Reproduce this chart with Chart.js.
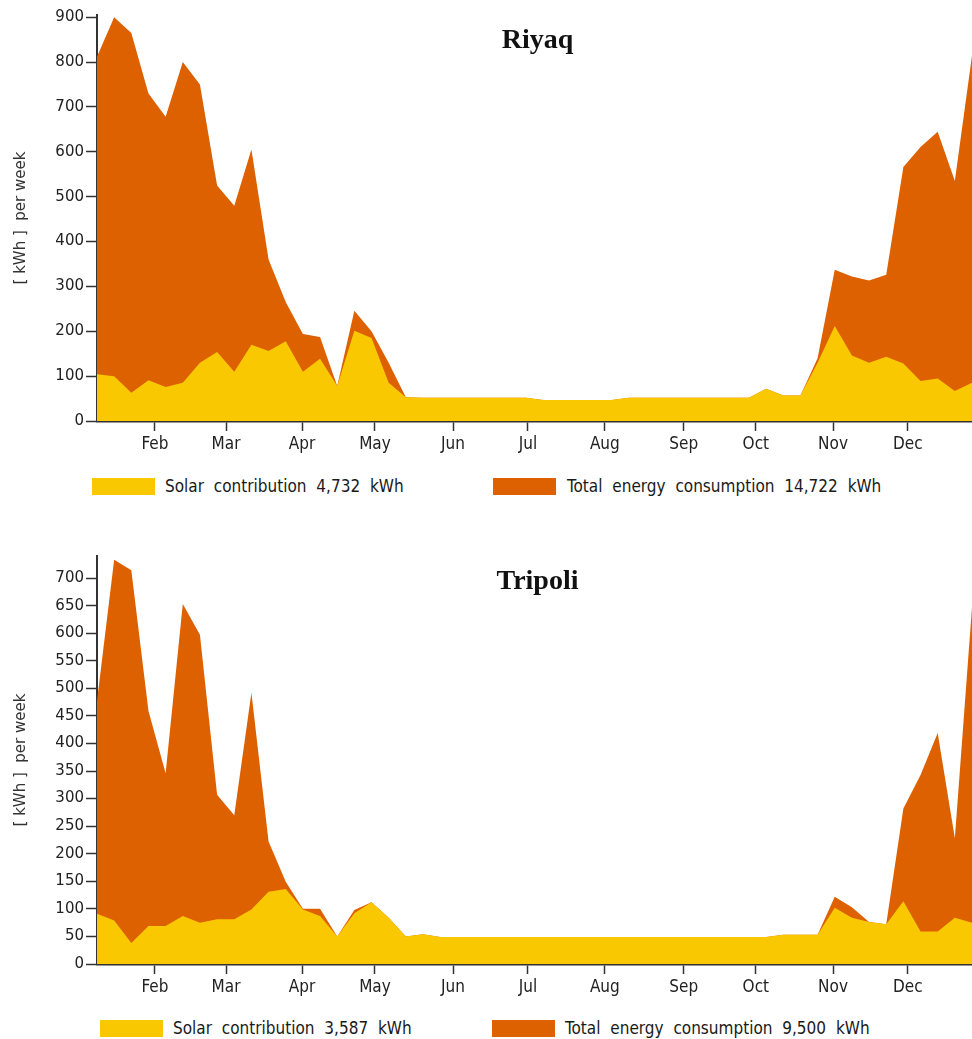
<!DOCTYPE html>
<html>
<head>
<meta charset="utf-8">
<title>Solar contribution - Riyaq / Tripoli</title>
<script src="https://cdn.jsdelivr.net/npm/chart.js"></script>
<style>
  body { margin: 0; background: #fff; }
  canvas { position: absolute; left: 0; }
  .legend { position: absolute; left: 0; width: 972px; height: 20px;
    font: 17px 'DejaVu Sans Condensed', 'Liberation Sans Narrow', 'DejaVu Sans', sans-serif;
    color: #1a1a1a; word-spacing: 5px; }
  .legend .box { position: absolute; top: 0; width: 63px; height: 17px; }
  .legend .txt { position: absolute; top: -2px; white-space: nowrap; }
</style>
</head>
<body>

<canvas id="riyaq" width="972" height="460" style="top:0"></canvas>
<div class="legend" style="top:478px">
  <span class="box" style="left:92px;background:#FAC800"></span>
  <span class="txt" style="left:165px">Solar contribution 4,732 kWh</span>
  <span class="box" style="left:493px;background:#DE6100"></span>
  <span class="txt" style="left:567px">Total energy consumption 14,722 kWh</span>
</div>

<canvas id="tripoli" width="972" height="463" style="top:540px"></canvas>
<div class="legend" style="top:1020px">
  <span class="box" style="left:100px;background:#FAC800"></span>
  <span class="txt" style="left:173px">Solar contribution 3,587 kWh</span>
  <span class="box" style="left:492px;background:#DE6100"></span>
  <span class="txt" style="left:565px">Total energy consumption 9,500 kWh</span>
</div>

<script>
// weekly values, weeks 1..52
const weekNumbers = [1,2,3,4,5,6,7,8,9,10,11,12,13,14,15,16,17,18,19,20,21,22,23,24,25,26,
  27,28,29,30,31,32,33,34,35,36,37,38,39,40,41,42,43,44,45,46,47,48,49,50,51,52];

const monthLabels = ['Feb','Mar','Apr','May','Jun','Jul','Aug','Sep','Oct','Nov','Dec'];
// where the month ticks sit, in week units
const monthTickWeeks = [4.38, 8.52, 12.95, 17.2, 21.75, 26.12, 30.6, 35.2, 39.4, 43.9, 48.26];

const riyaqSolar = [104, 100, 63, 91, 76, 85, 130, 154, 110, 170, 156, 178, 110, 139, 78, 201, 185, 85, 53,
  52, 52, 52, 52, 52, 52, 52, 47, 47, 47, 47, 47, 52, 52, 52, 52, 52, 52, 52, 52,
  72, 57, 57, 130, 212, 146, 130, 143, 128, 89, 95, 67, 85];
const riyaqTotal = [812, 900, 865, 730, 678, 800, 750, 525, 480, 605, 360, 265, 194, 187, 78, 246, 200, 130, 53,
  52, 52, 52, 52, 52, 52, 52, 47, 47, 47, 47, 47, 52, 52, 52, 52, 52, 52, 52, 52,
  72, 57, 57, 140, 337, 322, 313, 326, 566, 611, 645, 535, 815];
const riyaqYTicks = [0, 100, 200, 300, 400, 500, 600, 700, 800, 900];

const tripoliSolar = [91, 79, 38, 69, 69, 87, 75, 81, 81, 99, 131, 136, 99, 87, 50, 92, 112, 84, 50, 54,
  49, 49, 49, 49, 49, 49, 49, 49, 49, 49, 49, 49, 49, 49, 49, 49, 49, 49, 49, 49,
  53, 53, 53, 102, 84, 76, 72, 114, 59, 59, 84, 75];
const tripoliTotal = [477, 733, 714, 459, 346, 653, 597, 307, 270, 492, 222, 149, 100, 100, 50, 98, 112, 84, 50, 54,
  49, 49, 49, 49, 49, 49, 49, 49, 49, 49, 49, 49, 49, 49, 49, 49, 49, 49, 49, 49,
  53, 53, 53, 122, 103, 76, 72, 282, 343, 419, 228, 647];
const tripoliYTicks = [0, 50, 100, 150, 200, 250, 300, 350, 400, 450, 500, 550, 600, 650, 700];

const YELLOW = '#FAC800';
const ORANGE = '#DE6100';
const condensed = "'DejaVu Sans Condensed', 'Liberation Sans Narrow', 'DejaVu Sans', sans-serif";

// town name written inside the plot area
const innerTitle = {
  id: 'innerTitle',
  afterDraw(chart, args, opts) {
    const { ctx, chartArea } = chart;
    ctx.save();
    ctx.font = 'bold 28px "Liberation Serif", "Times New Roman", serif';
    ctx.fillStyle = '#111';
    ctx.textAlign = 'center';
    ctx.textBaseline = 'middle';
    ctx.fillText(opts.text, (chartArea.left + chartArea.right) / 2 + 3, chartArea.top + 26);
    ctx.restore();
  }
};

function makeChart(id, name, solar, total, yTicks, yMax, padTop) {
  return new Chart(document.getElementById(id), {
    type: 'line',
    data: {
      labels: weekNumbers,
      datasets: [
        { label: 'Solar contribution', data: solar, backgroundColor: YELLOW,
          fill: 'origin', borderWidth: 0, pointRadius: 0, tension: 0 },
        { label: 'Total energy consumption', data: total, backgroundColor: ORANGE,
          fill: 'origin', borderWidth: 0, pointRadius: 0, tension: 0 }
      ]
    },
    options: {
      responsive: false,
      animation: false,
      layout: { padding: { top: padTop, right: 0, left: 0, bottom: 0 } },
      plugins: {
        legend: { display: false },
        tooltip: { enabled: false },
        innerTitle: { text: name }
      },
      scales: {
        x: {
          type: 'linear', min: 1, max: 52,
          afterBuildTicks: s => { s.ticks = monthTickWeeks.map(v => ({ value: v })); },
          afterFit: s => { s.height = 39; },
          border: { color: '#333', width: 2.5 },
          grid: { drawOnChartArea: false, tickLength: 10, tickColor: '#333', tickWidth: 1.5 },
          ticks: {
            autoSkip: false, maxRotation: 0, padding: 3, color: '#222',
            font: { family: condensed, size: 17 },
            callback: (v, i) => monthLabels[i]
          }
        },
        y: {
          min: 0, max: yMax,
          afterBuildTicks: s => { s.ticks = yTicks.map(v => ({ value: v })); },
          afterFit: s => { s.width = 97; },
          border: { color: '#333', width: 2 },
          grid: { drawOnChartArea: false, tickLength: 11, tickColor: '#333', tickWidth: 1.5 },
          ticks: { padding: 2, color: '#222', font: { family: 'DejaVu Sans', size: 15 } },
          title: {
            display: true, text: '[ kWh ]  per week', color: '#333',
            font: { family: 'DejaVu Sans', size: 15 },
            padding: { top: 12, bottom: 0 }
          }
        }
      }
    },
    plugins: [innerTitle]
  });
}

makeChart('riyaq', 'Riyaq', riyaqSolar, riyaqTotal, riyaqYTicks, 905, 15);
makeChart('tripoli', 'Tripoli', tripoliSolar, tripoliTotal, tripoliYTicks, 740, 16);
</script>
</body>
</html>
